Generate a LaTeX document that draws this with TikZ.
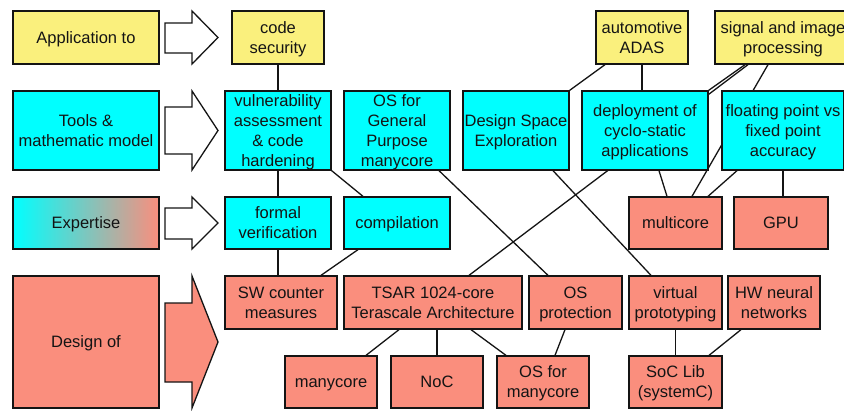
\documentclass[tikz,border=0pt]{standalone}
\usepackage{fontspec}
\setmainfont{Liberation Sans}
\usetikzlibrary{backgrounds,calc}
\definecolor{yel}{RGB}{250,240,125}
\definecolor{cyn}{RGB}{0,255,255}
\definecolor{sal}{RGB}{250,142,125}
\definecolor{ink}{RGB}{20,20,20}
\newcommand\myTop{\rule{0pt}{15pt}}
\newcommand\myBot{\rule[-3.5pt]{0pt}{3.5pt}}
\tikzset{
  box/.style={draw=ink, line width=1.3pt, inner sep=0pt, align=center, text=ink,
    font=\fontsize{16.5}{20}\selectfont},
  ybox/.style={box, fill=yel},
  cbox/.style={box, fill=cyn},
  sbox/.style={box, fill=sal},
  gbox/.style={box, left color=cyn, right color=sal},
  conn/.style={draw=ink, line width=1.3pt},
  bigarrow/.style={draw=ink, line width=1.3pt, line join=miter},
}
\begin{document}
\begin{tikzpicture}[x=1pt,y=-1pt]
\clip (0,0) rectangle (844,410);
% left column
\node[ybox, minimum width=146pt, minimum height=53pt] (app) at (86,37.5) {\myTop Application to\myBot};
\node[cbox, minimum width=146pt, minimum height=79pt] (tools) at (86,130.5) {\myTop Tools \&\\mathematic model\myBot};
\node[gbox, minimum width=146pt, minimum height=52pt] (exp) at (86,223) {\myTop Expertise\myBot};
\node[sbox, minimum width=146pt, minimum height=132pt] (des) at (86,342) {\myTop Design of\myBot};
% arrows
\draw[bigarrow, fill=white] (165,23) -- (192,23) -- (192,11) -- (218,37.5) -- (192,64) -- (192,53) -- (165,53) -- cycle;
\draw[bigarrow, fill=white] (165,107) -- (192,107) -- (192,91) -- (218,130.5) -- (192,170) -- (192,154) -- (165,154) -- cycle;
\draw[bigarrow, fill=white] (165,208) -- (192,208) -- (192,197) -- (218,223) -- (192,249) -- (192,239) -- (165,239) -- cycle;
\draw[bigarrow, fill=sal] (165,303) -- (192,303) -- (192,276) -- (218,342) -- (192,408) -- (192,382) -- (165,382) -- cycle;
% row 1
\node[ybox, minimum width=92pt, minimum height=53pt] (code) at (278,37.5) {\myTop code\\security\myBot};
\node[ybox, minimum width=92pt, minimum height=53pt] (adas) at (642,37.5) {\myTop automotive\\ADAS\myBot};
\node[ybox, minimum width=136pt, minimum height=53pt] (sig) at (783,37.5) {\myTop signal and image\\processing\myBot};
% row 2
\node[cbox, minimum width=106pt, minimum height=79pt] (vuln) at (278,130.5) {\myTop vulnerability\\assessment\\\& code\\hardening\myBot};
\node[cbox, minimum width=106pt, minimum height=79pt] (osgp) at (397,130.5) {\myTop OS for\\General\\Purpose\\manycore\myBot};
\node[cbox, minimum width=106pt, minimum height=79pt] (dse) at (516,130.5) {\myTop Design Space\\Exploration\myBot};
\node[cbox, minimum width=126pt, minimum height=79pt] (dep) at (645,130.5) {\myTop deployment of\\cyclo-static\\applications\myBot};
\node[cbox, minimum width=122pt, minimum height=79pt] (flt) at (783,130.5) {\myTop floating point vs\\fixed point\\accuracy\myBot};
% row 3
\node[cbox, minimum width=106pt, minimum height=52pt] (formal) at (278,223) {\myTop formal\\verification\myBot};
\node[cbox, minimum width=106pt, minimum height=52pt] (comp) at (397,223) {\myTop compilation\myBot};
\node[sbox, minimum width=93pt, minimum height=52pt] (multi) at (675.5,223) {\myTop multicore\myBot};
\node[sbox, minimum width=94pt, minimum height=52pt] (gpu) at (781,223) {\myTop GPU\myBot};
% row 4
\node[sbox, minimum width=112pt, minimum height=53pt] (sw) at (281,302.5) {\myTop SW counter\\measures\myBot};
\node[sbox, minimum width=178pt, minimum height=53pt] (tsar) at (433,302.5) {\myTop TSAR 1024-core\\Terascale Architecture\myBot};
\node[sbox, minimum width=93pt, minimum height=53pt] (osprot) at (575.5,302.5) {\myTop OS\\protection\myBot};
\node[sbox, minimum width=93pt, minimum height=53pt] (virt) at (675.5,302.5) {\myTop virtual\\prototyping\myBot};
\node[sbox, minimum width=92pt, minimum height=53pt] (hw) at (774,302.5) {\myTop HW neural\\networks\myBot};
% row 5
\node[sbox, minimum width=92pt, minimum height=52pt] (many) at (331,382) {\myTop manycore\myBot};
\node[sbox, minimum width=92pt, minimum height=52pt] (noc) at (437,382) {\myTop NoC\myBot};
\node[sbox, minimum width=92pt, minimum height=52pt] (osmany) at (543,382) {\myTop OS for\\manycore\myBot};
\node[sbox, minimum width=93pt, minimum height=52pt] (soc) at (675.5,382) {\myTop SoC Lib\\(systemC)\myBot};
% connectors
\begin{pgfonlayer}{background}
\fill[white] (0,0) rectangle (844,410);
\draw[conn] (code.south) -- (vuln.north);
\draw[conn] (vuln.south) -- (formal.north);
\draw[conn] (vuln.south east) -- ([xshift=-34pt]comp.north);
\draw[conn] (formal.south) -- (formal.south |- sw.north);
\draw[conn] ([xshift=-39pt]comp.south) -- ([xshift=40pt]sw.north);
\draw[conn] ([xshift=42pt]osgp.south) -- ([xshift=-27.5pt]osprot.north);
\draw[conn] ([xshift=37pt]dse.south) -- ([xshift=-24.5pt]virt.north);
\draw[conn] ([xshift=-37pt]adas.south) -- (dse.north east);
\draw[conn] (adas.south) -- (adas.south |- dep.north);
\draw[conn] ([xshift=-38pt]sig.south) -- (dep.north east);
\draw[conn] ([xshift=-35pt]sig.south) -- ([xshift=36pt]tsar.north);
\draw[conn] ([xshift=-15pt]sig.south) -- ([xshift=16.5pt]multi.north);
\draw[conn] ([xshift=-46pt]flt.south) -- ([xshift=32.5pt]multi.north);
\draw[conn] ([xshift=14pt]dep.south) -- ([xshift=-8.5pt]multi.north);
\draw[conn] (flt.south) -- (flt.south |- gpu.north);
\draw[conn] ([xshift=-34pt]tsar.south) -- ([xshift=35pt]many.north);
\draw[conn] (noc.north |- tsar.south) -- (noc.north);
\draw[conn] ([xshift=38pt]tsar.south) -- ([xshift=-37pt]osmany.north);
\draw[conn] ([xshift=-10.5pt]osprot.south) -- ([xshift=12pt]osmany.north);
\draw[conn] (virt.south) -- (soc.north);
\draw[conn] ([xshift=-33pt]hw.south) -- ([xshift=33.5pt]soc.north);
\end{pgfonlayer}
\end{tikzpicture}
\end{document}
